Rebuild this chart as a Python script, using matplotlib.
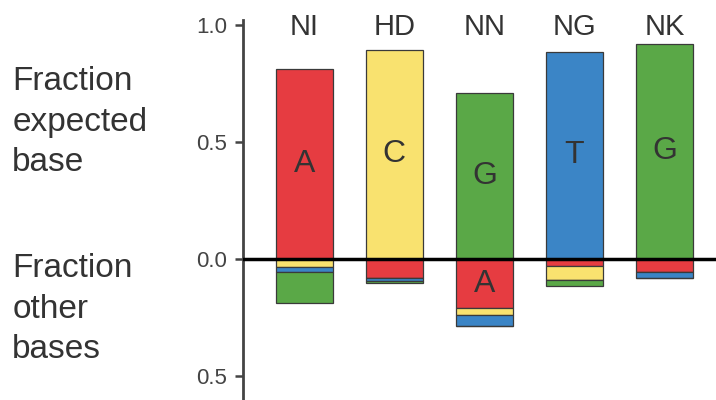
import matplotlib
matplotlib.use('agg')
import matplotlib.pyplot as plt
import numpy as np

plt.rcParams['font.family'] = ['Liberation Sans', 'DejaVu Sans']

rvds = ['NI', 'HD', 'NN', 'NG', 'NK']
expected_base = ['A', 'C', 'G', 'T', 'G']
frac_expected = [0.81, 0.895, 0.71, 0.885, 0.92]

# other bases, stacked downward in this order
other_bases = ['A', 'C', 'T', 'G']
other_A = [0.0, 0.08, 0.21, 0.03, 0.055]
other_C = [0.034, 0.0, 0.028, 0.06, 0.0]
other_T = [0.022, 0.013, 0.048, 0.0, 0.028]
other_G = [0.132, 0.01, 0.0, 0.027, 0.0]

colors = {'A': '#e63c41', 'C': '#f9e26f', 'G': '#5aa847', 'T': '#3b85c6'}
edge = '#3a3a3a'
txt = '#333333'

fig = plt.figure(figsize=(7.16, 4.0), dpi=100)
ax = fig.add_axes([0.339, 0.0, 0.661, 1.0])

xs = np.arange(len(rvds))
w = 0.633

# expected base, upward
for i, b in enumerate(expected_base):
    ax.bar(xs[i], frac_expected[i], width=w, color=colors[b],
           edgecolor=edge, linewidth=0.9)
    ax.text(xs[i], frac_expected[i] / 2, b, ha='center', va='center',
            fontsize=23, color=txt)

# other bases, downward
others = {'A': other_A, 'C': other_C, 'T': other_T, 'G': other_G}
bottom = np.zeros(len(rvds))
for b in other_bases:
    vals = np.array(others[b])
    ax.bar(xs, -vals, width=w, bottom=bottom, color=colors[b],
           edgecolor=edge, linewidth=0.9)
    bottom -= vals
# label the big mismatch in NN
ax.text(xs[2], -other_A[2] / 2, 'A', ha='center', va='center',
        fontsize=23, color=txt)

for i, r in enumerate(rvds):
    ax.text(xs[i], 0.99, r, ha='center', va='center', fontsize=21, color=txt)

ax.axhline(0, color='black', lw=2.5, zorder=5)

ax.set_xlim(-0.683, 4.572)
ax.set_ylim(-0.603, 1.107)
ax.set_yticks([-0.5, 0.0, 0.5, 1.0])
ax.set_yticklabels(['0.5', '0.0', '0.5', '1.0'])
ax.set_xticks([])
for s in ['top', 'right', 'bottom']:
    ax.spines[s].set_visible(False)
ax.spines['left'].set_color('#444444')
ax.spines['left'].set_linewidth(2)
ax.spines['left'].set_bounds(-0.603, 1.02)
ax.tick_params(axis='y', direction='out', length=6, width=1.8,
               color='#444444', labelcolor='#444444', labelsize=16, pad=5)

fig.text(0.017, 0.695, 'Fraction\nexpected\nbase', ha='left', va='center',
         fontsize=24, color=txt, linespacing=1.4)
fig.text(0.017, 0.227, 'Fraction\nother\nbases', ha='left', va='center',
         fontsize=24, color=txt, linespacing=1.4)

fig.savefig('out.png', dpi=100)
